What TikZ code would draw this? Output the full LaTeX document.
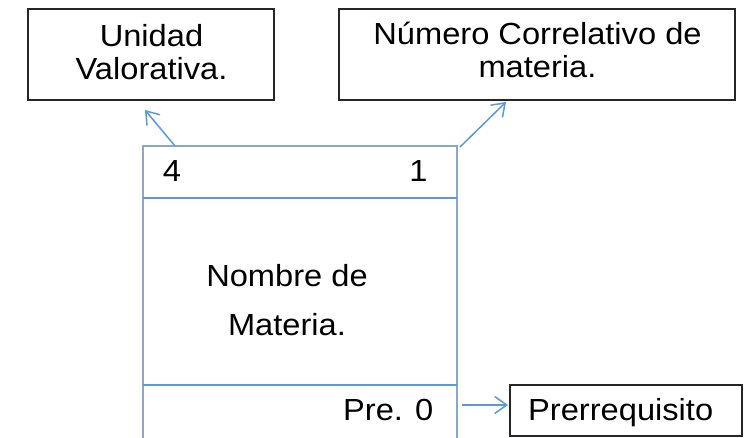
\documentclass[tikz,border=0pt]{standalone}
\usepackage{fontspec}
\setmainfont{Liberation Sans}[FakeStretch=1.07]
\usetikzlibrary{arrows.meta}
\definecolor{arrowblue}{RGB}{91,155,213}
\definecolor{cardedge}{RGB}{142,165,200}
\definecolor{boxedge}{RGB}{38,38,38}
\tikzset{
  txt/.style={inner sep=0pt, font=\fontsize{30.5}{33}\selectfont, text=black},
  labelbox/.style={draw=boxedge, line width=2pt, fill=white, inner sep=0pt},
  card/.style={draw=cardedge, line width=1.6pt, inner sep=0pt},
  divider/.style={draw=arrowblue, line width=1.6pt},
  conn/.style={draw=arrowblue, line width=1.5pt, -{Straight Barb[length=12pt,width=17pt,line width=1.5pt]}},
}
\begin{document}
\begin{tikzpicture}[x=1pt,y=-1pt]
\useasboundingbox (0,0) rectangle (747,438);
\clip (0,0) rectangle (747,438);
\fill[white] (0,0) rectangle (747,438);
% label boxes
\node[labelbox, minimum width=246pt, minimum height=91pt] (uv) at (151,54.5) {};
\node[labelbox, minimum width=396pt, minimum height=91pt] (nc) at (537,54.5) {};
\node[labelbox, minimum width=232pt, minimum height=51pt] (pre) at (626,410.5) {};
% texts in label boxes
\node[txt, anchor=base] (uv1) at (151.5,47) {Unidad};
\node[txt, anchor=base] (uv2) at (151.5,80) {Valorativa.};
\node[txt, anchor=base] (nc1) at (537.5,45) {Número Correlativo de};
\node[txt, anchor=base] (nc2) at (537.5,78) {materia.};
\node[txt, anchor=base west] (pretxt) at (528,420) {Prerrequisito};
% card
\node[card, minimum width=314pt, minimum height=324pt] (card) at (300,308) {};
\draw[divider] (143,198) -- (457,198);
\draw[divider] (143,385) -- (457,385);
\node[txt, anchor=base] (uvnum) at (172,182) {4};
\node[txt, anchor=base] (ncnum) at (418.5,182) {1};
\node[txt, anchor=base] (name1) at (287,287) {Nombre de};
\node[txt, anchor=base] (name2) at (287,335) {Materia.};
\node[txt, anchor=base east] (prenum) at (433.5,420) {Pre. 0};
% connectors
\coordinate (a1s) at (175,146);
\coordinate (a1e) at (145,110);
\coordinate (a2s) at (460,147);
\coordinate (a2e) at (506,102);
\coordinate (a3s) at (462,405);
\coordinate (a3e) at (508,405);
\draw[conn] (a1s) -- (a1e);
\draw[conn] (a2s) -- (a2e);
\draw[conn] (a3s) -- (a3e);
\end{tikzpicture}
\end{document}
